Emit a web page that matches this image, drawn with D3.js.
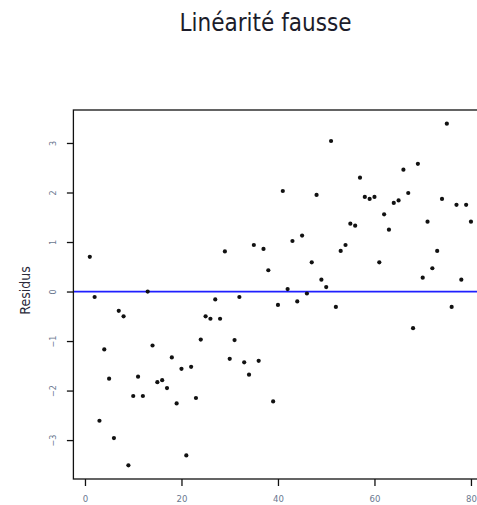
<!DOCTYPE html>
<html>
<head>
<meta charset="utf-8">
<script src="https://cdn.jsdelivr.net/npm/d3@7"></script>
<style>
  html, body { margin: 0; padding: 0; background: #fff; }
  svg { display: block; }
</style>
</head>
<body>
<svg id="chart" width="477" height="505"></svg>
<script>
// ---- data ----
const title = "Linéarité fausse";
const yLabel = "Residus";
const xIndex = d3.range(1, 81);
const residus = [
  0.70, -0.11, -2.61, -1.17, -1.76, -2.96, -0.39, -0.50, -3.51, -2.11,
  -1.72, -2.11, 0.00, -1.09, -1.83, -1.79, -1.95, -1.33, -2.26, -1.56,
  -3.31, -1.52, -2.15, -0.97, -0.50, -0.55, -0.16, -0.55, 0.81, -1.36,
  -0.98, -0.11, -1.43, -1.68, 0.94, -1.40, 0.86, 0.43, -2.22, -0.27,
  2.03, 0.05, 1.02, -0.20, 1.13, -0.04, 0.59, 1.95, 0.24, 0.09,
  3.04, -0.31, 0.82, 0.94, 1.37, 1.33, 2.30, 1.91, 1.87, 1.91,
  0.59, 1.56, 1.25, 1.79, 1.84, 2.46, 1.99, -0.74, 2.58, 0.28,
  1.41, 0.47, 0.82, 1.87, 3.39, -0.31, 1.75, 0.24, 1.75, 1.41
];
const xTicks = [0, 20, 40, 60, 80];
const yTicks = [-3, -2, -1, 0, 1, 2, 3];
const refLine = 0;

// ---- layout ----
const svg = d3.select("#chart");
const box = { left: 73.4, right: 486.4, top: 110, bottom: 479 };

const x = d3.scaleLinear().domain([-2.4, 83.2]).range([box.left, box.right]);
const y = d3.scaleLinear().domain([-3.786, 3.666]).range([box.bottom, box.top]);

const font = "'DejaVu Sans Condensed', 'DejaVu Sans', sans-serif";

// title
svg.append("text")
  .attr("x", 265.5).attr("y", 30.5)
  .attr("text-anchor", "middle")
  .attr("font-family", font)
  .attr("font-stretch", "condensed")
  .attr("font-size", 24)
  .attr("fill", "#1c1c2a")
  .text(title);

// reference line (h = 0)
svg.append("line")
  .attr("x1", box.left).attr("x2", box.right)
  .attr("y1", y(refLine)).attr("y2", y(refLine))
  .attr("stroke", "#1f1fff").attr("stroke-width", 1.8);

// points
svg.append("g").selectAll("circle")
  .data(xIndex.map((d, i) => [d, residus[i]]))
  .join("circle")
  .attr("cx", d => x(d[0]))
  .attr("cy", d => y(d[1]))
  .attr("r", 2.1)
  .attr("fill", "#111");

// box (frame)
svg.append("rect")
  .attr("x", box.left).attr("y", box.top)
  .attr("width", box.right - box.left).attr("height", box.bottom - box.top)
  .attr("fill", "none").attr("stroke", "#111").attr("stroke-width", 1.3);

// x axis
const xAxis = d3.axisBottom(x).tickValues(xTicks).tickSize(7).tickPadding(9).tickFormat(d3.format("d"));
const gx = svg.append("g").attr("transform", `translate(0,${box.bottom})`).call(xAxis);
gx.select(".domain").remove();
gx.selectAll(".tick line").attr("stroke", "#111").attr("stroke-width", 1.3);
gx.selectAll(".tick text")
  .attr("font-family", font).attr("font-size", 9.5).attr("fill", "#6a7890");

// y axis
const yAxis = d3.axisLeft(y).tickValues(yTicks).tickSize(6.5).tickPadding(0).tickFormat(d3.format("d"));
const gy = svg.append("g").attr("transform", `translate(${box.left},0)`).call(yAxis);
gy.select(".domain").remove();
gy.selectAll(".tick line").attr("stroke", "#111").attr("stroke-width", 1.3);
gy.selectAll(".tick text")
  .attr("font-family", font).attr("font-size", 9).attr("fill", "#6a7890")
  .attr("text-anchor", "middle")
  .attr("dy", null)
  .attr("x", null)
  .attr("transform", "translate(-20,0) rotate(-90)")
  .attr("dominant-baseline", "central");

// y label
svg.append("text")
  .attr("transform", `translate(25,${(box.top + box.bottom) / 2 - 4}) rotate(-90)`)
  .attr("text-anchor", "middle")
  .attr("dominant-baseline", "central")
  .attr("font-family", font)
  .attr("font-stretch", "condensed")
  .attr("font-size", 14)
  .attr("fill", "#2a2a3a")
  .text(yLabel);
</script>
</body>
</html>
